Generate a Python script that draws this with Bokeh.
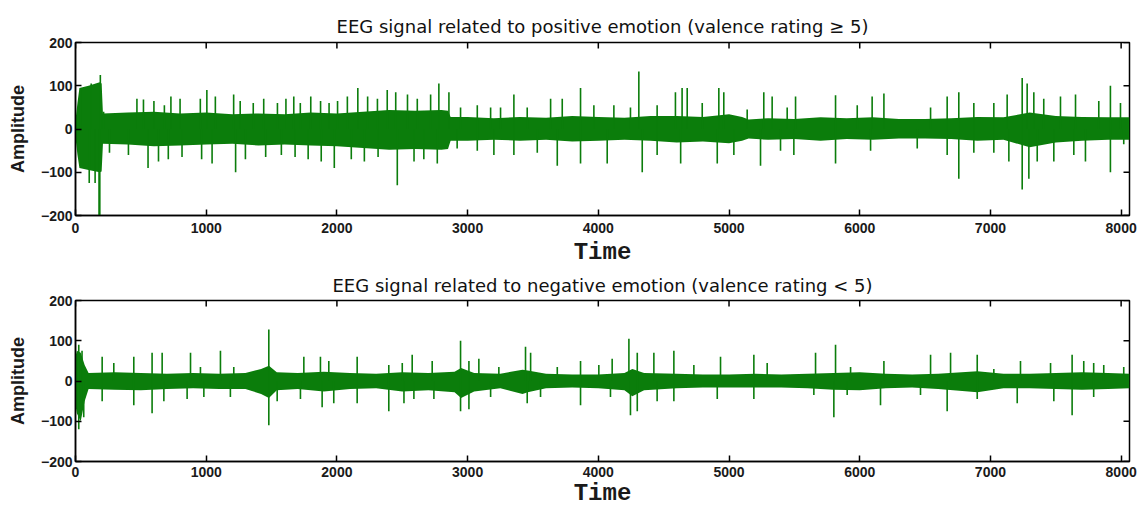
import math
from bokeh.plotting import figure
from bokeh.layouts import column
from bokeh.models import FixedTicker, Range1d
from bokeh.embed import file_html
from bokeh.resources import INLINE

# ---------------- data ----------------
x_ticks = [0, 1000, 2000, 3000, 4000, 5000, 6000, 7000, 8000]
y_ticks = [-200, -100, 0, 100, 200]
t_max = 8064

title_pos = "EEG signal related to positive emotion (valence rating \u2265 5)"
title_neg = "EEG signal related to negative emotion (valence rating < 5)"

# positive emotion: dense body envelope
pos_body_t = [0, 15, 30, 100, 185, 200, 210, 400, 600, 800, 1000, 1200, 1400, 1600, 1800,
              2000, 2200, 2400, 2600, 2800, 2850, 2870, 3000, 3200, 3400, 3600, 3800, 4000,
              4200, 4400, 4600, 4800, 5000, 5100, 5150, 5300, 5500, 5700, 5900, 6100, 6300,
              6500, 6700, 6900, 7100, 7300, 7500, 7700, 7900, 8064]
pos_body_hi = [20, 60, 95, 100, 108, 105, 36, 38, 40, 36, 38, 34, 36, 34, 38,
               36, 40, 44, 42, 44, 42, 28, 28, 25, 28, 26, 30, 28,
               26, 30, 30, 28, 34, 28, 22, 25, 23, 27, 25, 27, 23,
               23, 25, 28, 27, 38, 30, 28, 27, 27]
pos_body_lo = [-20, -60, -90, -95, -100, -98, -34, -36, -40, -38, -36, -34, -38, -36, -38,
               -40, -44, -48, -46, -48, -46, -27, -27, -25, -27, -25, -29, -27,
               -25, -27, -31, -29, -33, -27, -22, -25, -23, -27, -23, -25, -22,
               -22, -23, -27, -25, -42, -31, -27, -25, -25]
# positive emotion: spikes
pos_up_t = [40, 120, 190, 215, 470, 520, 600, 680, 730, 800, 955, 1005, 1070, 1210, 1260, 1360,
            1440, 1545, 1610, 1670, 1720, 1800, 1875, 1940, 2005, 2080, 2160, 2235, 2310, 2385,
            2450, 2540, 2615, 2717, 2780, 2857, 2946, 3074, 3176, 3252, 3354, 3456, 3635, 3724,
            3864, 3966, 4119, 4246, 4310, 4450, 4590, 4641, 4680, 4795, 4922, 4960, 5139, 5266,
            5330, 5445, 5509, 5815, 5981, 6095, 6185, 6542, 6669, 6758, 6873, 7026, 7128, 7243,
            7281, 7332, 7408, 7536, 7651, 7829, 7918, 7995]
pos_up_v = [95, 105, 125, 40, 70, 68, 65, 55, 75, 70, 70, 90, 75, 80, 65, 60,
            70, 60, 70, 75, 60, 75, 65, 60, 65, 75, 95, 75, 70, 90,
            85, 80, 70, 80, 105, 85, 50, 55, 50, 50, 80, 50, 70, 70,
            95, 55, 55, 50, 133, 55, 85, 95, 95, 60, 95, 85, 45, 85,
            75, 50, 75, 78, 55, 75, 82, 50, 75, 85, 60, 60, 80, 118,
            105, 85, 70, 75, 80, 65, 100, 60]
pos_dn_t = [105, 150, 180, 186, 260, 405, 555, 635, 710, 815, 965, 1045, 1225, 1300, 1455,
            1575, 1680, 1780, 1880, 1980, 2110, 2210, 2315, 2462, 2590, 2665, 2768, 2920, 3074,
            3201, 3354, 3533, 3686, 3864, 4068, 4336, 4450, 4630, 4910, 5037, 5241, 5394, 5496,
            5815, 6083, 6440, 6669, 6758, 6873, 7026, 7141, 7243, 7294, 7358, 7485, 7638, 7727,
            7918, 8020]
pos_dn_v = [-125, -125, -200, -200, -55, -60, -90, -75, -70, -65, -70, -80, -100, -70, -65,
            -60, -65, -70, -75, -90, -70, -75, -65, -130, -75, -70, -80, -45, -50,
            -60, -60, -55, -85, -80, -80, -100, -60, -80, -80, -60, -85, -50, -60,
            -80, -50, -45, -60, -115, -55, -55, -75, -140, -115, -75, -75, -60, -75,
            -100, -35]

# negative emotion: dense body envelope
neg_body_t = [0, 10, 40, 70, 100, 300, 500, 700, 900, 1100, 1300, 1420, 1480, 1540, 1700,
              1900, 2100, 2300, 2500, 2700, 2900, 2950, 3050, 3250, 3420, 3460, 3600, 3800,
              4000, 4200, 4260, 4350, 4600, 4800, 5000, 5200, 5400, 5600, 5800, 6000, 6200,
              6400, 6600, 6900, 7100, 7300, 7500, 7700, 7900, 8064]
neg_body_hi = [60, 75, 70, 40, 20, 22, 20, 18, 20, 18, 20, 30, 38, 22, 20,
               23, 20, 18, 22, 20, 23, 32, 20, 18, 28, 26, 18, 16,
               16, 20, 30, 20, 18, 16, 16, 18, 16, 18, 20, 22, 18,
               16, 18, 24, 18, 18, 20, 22, 20, 18]
neg_body_lo = [-60, -80, -100, -50, -20, -22, -23, -20, -18, -20, -20, -32, -42, -23, -20,
               -26, -20, -18, -26, -23, -28, -42, -26, -18, -32, -28, -18, -16,
               -18, -23, -38, -23, -18, -16, -16, -16, -16, -18, -22, -23, -18,
               -16, -20, -28, -18, -18, -20, -22, -20, -18]
# negative emotion: spikes
neg_up_t = [25, 50, 204, 293, 446, 586, 663, 880, 956, 1109, 1211, 1479, 1747, 1874, 1938,
            2155, 2397, 2500, 2576, 2729, 2946, 3010, 3086, 3239, 3443, 3482, 3686, 3864, 4004,
            4106, 4234, 4298, 4425, 4578, 4731, 4935, 5190, 5292, 5662, 5815, 5930, 6185, 6542,
            6695, 6899, 7026, 7230, 7460, 7625, 7714, 7790, 7867, 8020]
neg_up_v = [90, 75, 60, 45, 60, 70, 70, 70, 35, 75, 35, 128, 60, 60, 50,
            60, 40, 45, 65, 50, 100, 50, 55, 35, 85, 70, 35, 50, 40,
            55, 105, 70, 70, 75, 40, 60, 65, 45, 70, 90, 35, 50, 65,
            70, 65, 30, 50, 45, 65, 50, 45, 40, 35]
neg_dn_t = [25, 63, 204, 446, 586, 676, 854, 982, 1185, 1479, 1543, 1721, 1887, 1976, 2155,
            2397, 2513, 2589, 2742, 2946, 3010, 3176, 3456, 3558, 3864, 4093, 4246, 4298, 4450,
            4578, 4910, 5190, 5649, 5802, 5904, 6159, 6465, 6669, 6899, 7205, 7485, 7625, 7790]
neg_dn_v = [-120, -90, -50, -60, -80, -50, -45, -40, -40, -110, -50, -45, -65, -55, -55,
            -75, -55, -45, -45, -75, -70, -40, -55, -40, -60, -40, -85, -75, -50,
            -50, -45, -45, -35, -90, -35, -60, -35, -75, -45, -55, -50, -85, -40]

# ---------------- styling ----------------
GREEN = "#0b7d0b"
TICK_FONT = "Liberation Sans"


def style_axis(ax, standoff):
    ax.major_tick_in = 6
    ax.major_tick_out = 0
    ax.minor_tick_line_color = None
    ax.axis_line_width = 1.5
    ax.axis_line_color = "black"
    ax.major_tick_line_width = 1.5
    ax.major_tick_line_color = "black"
    ax.major_label_text_font = TICK_FONT
    ax.major_label_text_font_size = "14px"
    ax.major_label_text_font_style = "bold"
    ax.major_label_text_color = "#1a1a1a"
    ax.major_label_standoff = standoff


def make_panel(title, body_t, body_hi, body_lo, up_t, up_v, dn_t, dn_v,
               height, border_top, border_bottom, x_standoff, label_standoff,
               title_standoff):
    p = figure(width=1137, height=height,
               x_range=Range1d(0, t_max), y_range=Range1d(y_ticks[0], y_ticks[-1]),
               output_backend="svg", toolbar_location=None,
               min_border_left=75, min_border_right=8,
               min_border_top=border_top, min_border_bottom=border_bottom,
               x_axis_label="Time", y_axis_label="Amplitude", title=title)
    p.title.align = "center"
    p.title.text_font = "DejaVu Sans"
    p.title.text_font_size = "18px"
    p.title.text_font_style = "normal"
    p.title.text_color = "#111111"
    p.title.standoff = title_standoff
    p.xgrid.visible = False
    p.ygrid.visible = False
    p.outline_line_color = "black"
    p.outline_line_width = 1.5
    p.background_fill_color = "white"
    p.border_fill_color = "white"

    p.xaxis.ticker = FixedTicker(ticks=x_ticks)
    p.yaxis.ticker = FixedTicker(ticks=y_ticks)
    style_axis(p.xaxis[0], x_standoff)
    style_axis(p.yaxis[0], 3)
    p.xaxis.axis_label_text_font = "Liberation Mono"
    p.xaxis.axis_label_text_font_size = "24px"
    p.xaxis.axis_label_text_font_style = "bold"
    p.xaxis.axis_label_text_color = "#1a1a1a"
    p.xaxis.axis_label_standoff = label_standoff
    p.yaxis.axis_label_text_font = "Liberation Sans"
    p.yaxis.axis_label_text_font_size = "18px"
    p.yaxis.axis_label_text_font_style = "bold"
    p.yaxis.axis_label_text_color = "#1a1a1a"
    p.yaxis.axis_label_standoff = 10

    # inward tick marks on the top and right edges of the box (MATLAB style)
    p.ray(x=x_ticks, y=[y_ticks[-1]] * len(x_ticks), length=6, length_units="screen",
          angle=-math.pi / 2, line_color="black", line_width=1.5)
    p.ray(x=[t_max] * len(y_ticks), y=y_ticks, length=6, length_units="screen",
          angle=math.pi, line_color="black", line_width=1.5)

    p.varea(x=body_t, y1=body_lo, y2=body_hi, fill_color=GREEN, fill_alpha=1.0)
    p.segment(x0=up_t, y0=[0] * len(up_t), x1=up_t, y1=up_v,
              line_color=GREEN, line_width=1.6)
    p.segment(x0=dn_t, y0=[0] * len(dn_t), x1=dn_t, y1=dn_v,
              line_color=GREEN, line_width=1.6)
    return p


p1 = make_panel(title_pos, pos_body_t, pos_body_hi, pos_body_lo,
                pos_up_t, pos_up_v, pos_dn_t, pos_dn_v, 268, 42, 52, 7, 3, 12)
p2 = make_panel(title_neg, neg_body_t, neg_body_hi, neg_body_lo,
                neg_up_t, neg_up_v, neg_dn_t, neg_dn_v, 241, 31, 44, 5, 0, 9)

layout = column(p1, p2, spacing=0)
open("out.html", "w").write(file_html(layout, INLINE))
